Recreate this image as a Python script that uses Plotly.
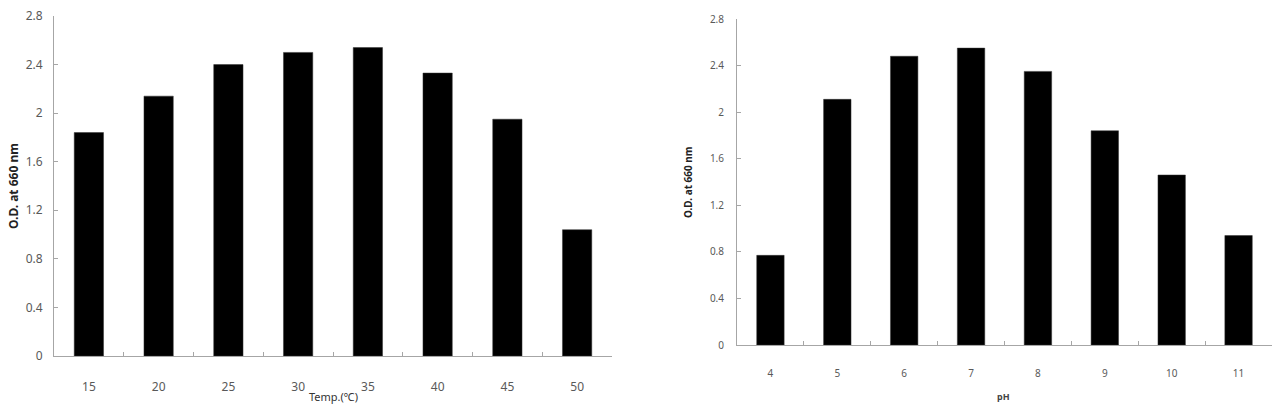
import plotly.graph_objects as go

W, H = 1278, 404

temp_labels = ["15", "20", "25", "30", "35", "40", "45", "50"]
temp_od = [1.84, 2.14, 2.40, 2.50, 2.54, 2.33, 1.95, 1.04]

ph_labels = ["4", "5", "6", "7", "8", "9", "10", "11"]
ph_od = [0.77, 2.11, 2.48, 2.55, 2.35, 1.84, 1.46, 0.94]

y_ticks = [0, 0.4, 0.8, 1.2, 1.6, 2, 2.4, 2.8]

FONT = "Noto Sans, DejaVu Sans, sans-serif"
AXIS_COL = "#a6a6a6"
TICK_COL = "#595959"

fig = go.Figure()
fig.add_trace(go.Bar(x=temp_labels, y=temp_od, width=0.42,
                     marker=dict(color="black", line=dict(color="#333", width=0.5)),
                     xaxis="x", yaxis="y", showlegend=False))
fig.add_trace(go.Bar(x=ph_labels, y=ph_od, width=0.41,
                     marker=dict(color="black", line=dict(color="#333", width=0.5)),
                     xaxis="x2", yaxis="y2", showlegend=False))

def px_x(p):
    return p / W

def px_y(p):
    return 1 - p / H

def xaxis(domain, size, standoff):
    return dict(domain=domain, type="category", range=[-0.5, 7.5],
                showline=True, linecolor=AXIS_COL, linewidth=1,
                ticks="inside", tickson="boundaries", ticklen=4, tickcolor=AXIS_COL,
                showgrid=False, zeroline=False, fixedrange=True, automargin=False,
                tickfont=dict(family=FONT, size=size, color=TICK_COL),
                ticklabelstandoff=standoff)

def yaxis(domain, anchor, size, standoff):
    return dict(domain=domain, anchor=anchor, range=[0, 2.8], tickvals=y_ticks,
                showline=True, linecolor=AXIS_COL, linewidth=1,
                ticks="inside", ticklen=4, tickcolor=AXIS_COL,
                showgrid=False, zeroline=False, fixedrange=True, automargin=False,
                tickfont=dict(family=FONT, size=size, color=TICK_COL),
                ticklabelstandoff=standoff)

def note(text, x, y, size, color, angle=0):
    return dict(text=text, textangle=angle, x=px_x(x), y=px_y(y),
                xanchor="center", yanchor="middle",
                xref="paper", yref="paper", showarrow=False,
                font=dict(family=FONT, size=size, color=color))

fig.update_layout(
    width=W, height=H,
    margin=dict(l=0, r=0, t=0, b=0, pad=0),
    paper_bgcolor="white", plot_bgcolor="white",
    bargap=0.5,
    xaxis=dict(xaxis([px_x(54), px_x(612)], 12, 20), anchor="y"),
    yaxis=yaxis([px_y(356), px_y(16)], "x", 12, 8),
    xaxis2=dict(xaxis([px_x(737), px_x(1272)], 10, 19), anchor="y2"),
    yaxis2=yaxis([px_y(345), px_y(19)], "x2", 10, 10),
    annotations=[
        note("<b>O.D. at 660 nm</b>", 13, 186, 12, "#222", -90),
        note("<b>O.D. at 660 nm</b>", 688, 182, 10, "#222", -90),
        note("Temp.(℃)", 333, 396, 11, "#333"),
        note("<b>pH</b>", 1003, 396, 9, "#444"),
    ],
)

fig.write_html("out.html")
